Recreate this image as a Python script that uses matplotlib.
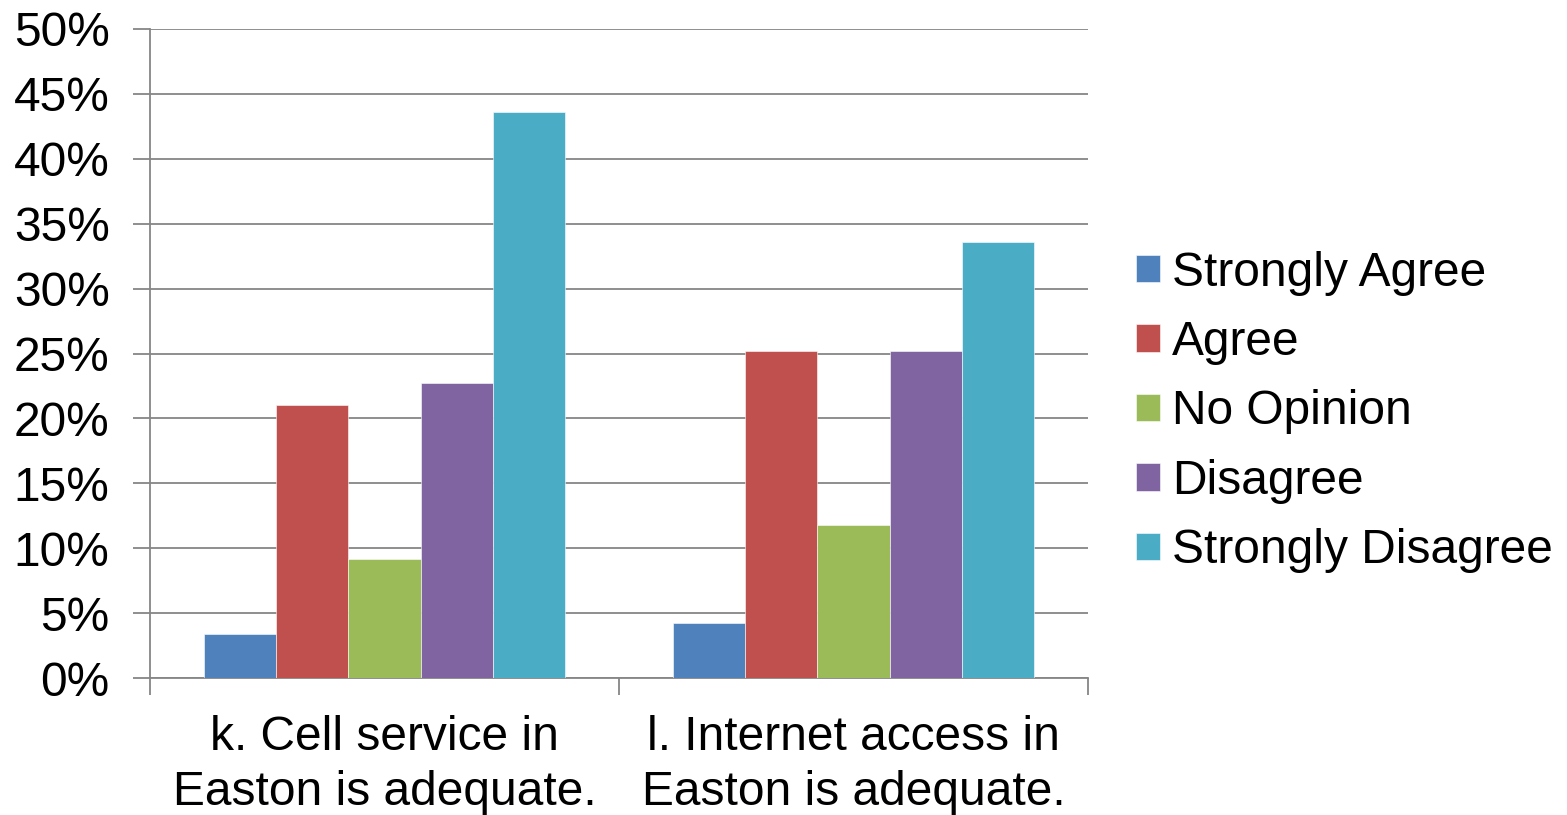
import numpy as np
import matplotlib.pyplot as plt
from matplotlib.ticker import FuncFormatter

plt.rcParams['font.family'] = ['Liberation Sans', 'DejaVu Sans']

categories = ["k. Cell service in\nEaston is adequate.",
              "l. Internet access in\nEaston is adequate."]
responses = ["Strongly Agree", "Agree", "No Opinion", "Disagree", "Strongly Disagree"]
strongly_agree = [3.4, 4.2]
agree = [21.0, 25.2]
no_opinion = [9.2, 11.8]
disagree = [22.7, 25.2]
strongly_disagree = [43.6, 33.6]
colors = ["#4F81BD", "#C0504D", "#9BBB59", "#8064A2", "#4BACC6"]

series = [strongly_agree, agree, no_opinion, disagree, strongly_disagree]
fs = 34.5

fig = plt.figure(figsize=(15.67, 8.15), dpi=100)
ax = fig.add_axes([150 / 1567, 1 - 678 / 815, (1088 - 150) / 1567, (678 - 29) / 815])

x = np.arange(len(categories))
width = 0.77 / len(series)
for i, (vals, name, c) in enumerate(zip(series, responses, colors)):
    offs = (i - (len(series) - 1) / 2) * width
    ax.bar(x + offs, vals, width, color=c, label=name, zorder=3,
           edgecolor='white', linewidth=0.4)

ax.set_xlim(-0.5, 1.5)
ax.set_ylim(0, 50)
ax.set_yticks(np.arange(0, 51, 5))
ax.yaxis.set_major_formatter(FuncFormatter(lambda v, p: f"{v:.0f}%"))
ax.grid(axis='y', color='#868686', linewidth=1.3, zorder=0)

# category labels sit between the boundary ticks
ax.set_xticks([-0.5, 0.5, 1.5])
ax.set_xticklabels([])
ax.set_xticks(x, minor=True)
ax.set_xticklabels(categories, minor=True, fontsize=fs, linespacing=1.26)
ax.tick_params(axis='x', which='minor', length=0, pad=27)
ax.tick_params(axis='x', which='major', length=12, width=1.3, color='#868686')
ax.tick_params(axis='y', length=12, width=1.3, color='#868686', labelsize=fs, pad=17)

for s in ['top', 'right']:
    ax.spines[s].set_visible(False)
for s in ['left', 'bottom']:
    ax.spines[s].set_color('#868686')
    ax.spines[s].set_linewidth(1.3)

leg = ax.legend(loc='center left', frameon=False,
                fontsize=fs, handlelength=0.5, handleheight=0.5, handletextpad=0.25,
                labelspacing=0.51, borderaxespad=0, borderpad=0)
leg.set_bbox_to_anchor((1136 / 1567, 1 - 412 / 815), transform=fig.transFigure)

fig.savefig("out.png", dpi=100)
